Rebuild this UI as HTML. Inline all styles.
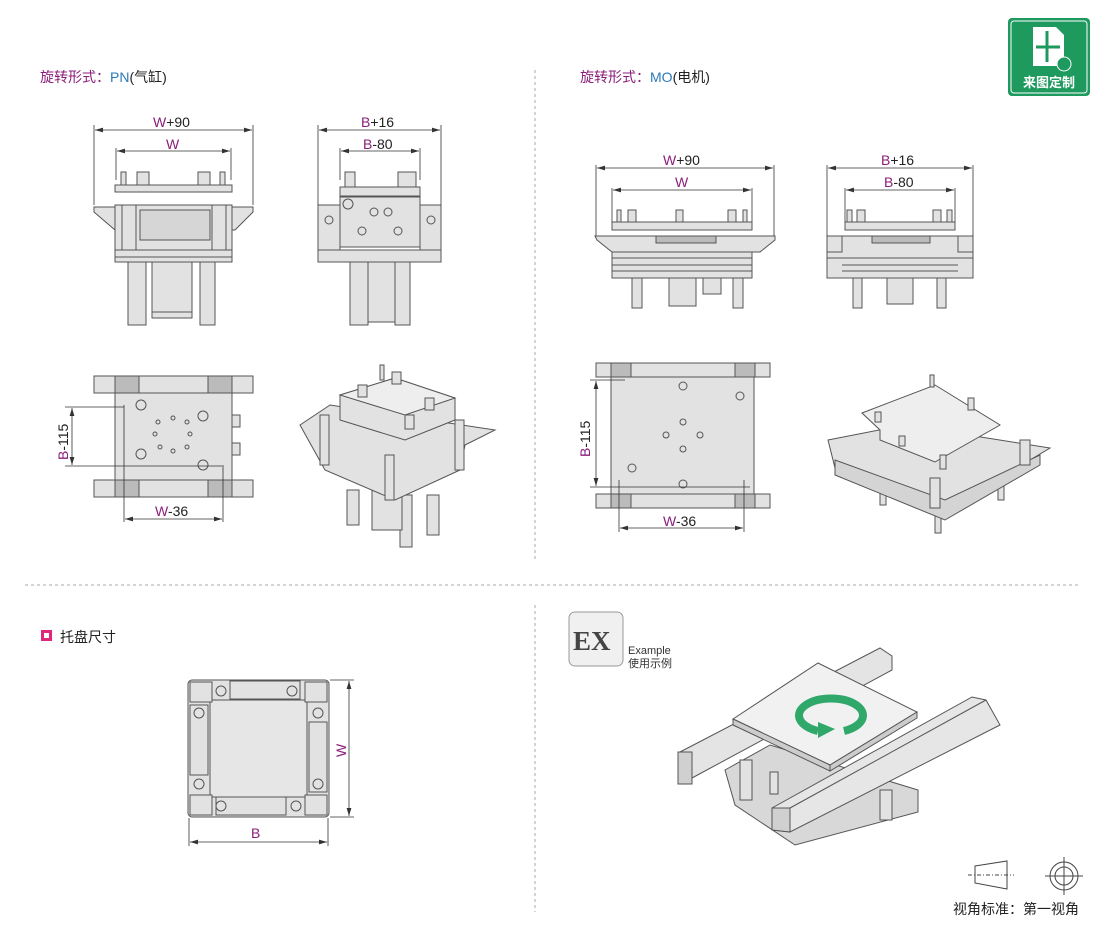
<!DOCTYPE html>
<html><head><meta charset="utf-8">
<style>
html,body{margin:0;padding:0;background:#fff;}
body{width:1110px;height:920px;overflow:hidden;font-family:"Liberation Sans","Noto Sans CJK SC",sans-serif;}
svg text{font-family:"Liberation Sans","Noto Sans CJK SC",sans-serif;}
</style></head><body>
<svg width="1110" height="920" viewBox="0 0 1110 920" xmlns="http://www.w3.org/2000/svg">
<defs>
<marker id="a" viewBox="0 0 10 6" refX="10" refY="3" markerWidth="10" markerHeight="6" orient="auto-start-reverse"><path d="M0,0L10,3L0,6z" fill="#333"/></marker>
</defs>
<g fill="#e2e2e2" stroke="#555" stroke-width="1">

<line x1="535" y1="70" x2="535" y2="562" stroke="#aaa" stroke-dasharray="3,3" fill="none"/>
<line x1="535" y1="605" x2="535" y2="912" stroke="#aaa" stroke-dasharray="3,3" fill="none"/>
<line x1="25" y1="585" x2="1080" y2="585" stroke="#aaa" stroke-dasharray="3,3" fill="none"/>

<!-- PN front -->
<g>
<rect x="128" y="262" width="18" height="63"/><rect x="200" y="262" width="15" height="63"/>
<rect x="152" y="262" width="40" height="56"/>
<line x1="152" y1="312" x2="192" y2="312"/>
<path d="M94,207 L253,207 L253,212 L235,230 L115,230 L94,212z"/>
<rect x="115" y="205" width="117" height="57"/>
<rect x="122" y="205" width="14" height="52"/><rect x="212" y="205" width="14" height="52"/>
<rect x="140" y="210" width="70" height="30" fill="#d6d6d6"/>
<rect x="115" y="185" width="117" height="7"/>
<rect x="121" y="172" width="5" height="13"/><rect x="137" y="172" width="12" height="13"/><rect x="198" y="172" width="12" height="13"/><rect x="220" y="172" width="5" height="13"/>
<rect x="115" y="250" width="117" height="7"/>
</g>
<!-- PN side -->
<g>
<rect x="350" y="262" width="18" height="63"/><rect x="395" y="262" width="15" height="63"/>
<rect x="368" y="262" width="27" height="60"/>
<rect x="318" y="205" width="22" height="52"/><rect x="420" y="205" width="21" height="52"/>
<circle cx="329" cy="220" r="4"/><circle cx="431" cy="220" r="4"/>
<rect x="340" y="197" width="80" height="50"/>
<circle cx="374" cy="212" r="4"/><circle cx="388" cy="212" r="4"/><circle cx="362" cy="231" r="4"/><circle cx="398" cy="231" r="4"/><circle cx="348" cy="204" r="5"/>
<rect x="340" y="187" width="80" height="9"/>
<rect x="345" y="172" width="10" height="15"/><rect x="398" y="172" width="18" height="15"/>
<rect x="318" y="250" width="123" height="12"/>
</g>
<!-- PN top -->
<g>
<rect x="94" y="376" width="159" height="17"/><rect x="94" y="480" width="159" height="17"/>
<rect x="115" y="376" width="24" height="17" fill="#bbb"/><rect x="208" y="376" width="24" height="17" fill="#bbb"/>
<rect x="115" y="480" width="24" height="17" fill="#bbb"/><rect x="208" y="480" width="24" height="17" fill="#bbb"/>
<rect x="115" y="393" width="117" height="87"/>
<rect x="232" y="415" width="8" height="12"/><rect x="232" y="443" width="8" height="12"/>
<circle cx="141" cy="405" r="5"/><circle cx="203" cy="416" r="5"/><circle cx="141" cy="454" r="5"/><circle cx="203" cy="465" r="5"/>
<circle cx="158" cy="422" r="2"/><circle cx="173" cy="418" r="2"/><circle cx="187" cy="422" r="2"/><circle cx="155" cy="434" r="2"/><circle cx="190" cy="434" r="2"/><circle cx="160" cy="447" r="2"/><circle cx="173" cy="451" r="2"/><circle cx="187" cy="447" r="2"/>
</g>
<!-- PN iso -->
<g>
<rect x="347" y="490" width="12" height="35"/><rect x="400" y="495" width="12" height="52"/><rect x="427" y="495" width="12" height="40"/><rect x="372" y="490" width="30" height="40"/>
<path d="M300,425 L330,405 L495,430 L465,445 L460,470 L395,500 L325,470z"/>
<path d="M340,395 L395,378 L455,398 L455,420 L405,440 L340,420z"/>
<path d="M340,395 L395,378 L455,398 L405,415z" fill="#eee"/>
<rect x="380" y="365" width="4" height="15"/><rect x="392" y="372" width="9" height="12"/><rect x="358" y="385" width="9" height="12"/><rect x="425" y="398" width="9" height="12"/><rect x="405" y="415" width="9" height="14"/>
<rect x="320" y="415" width="9" height="50"/><rect x="385" y="455" width="9" height="45"/><rect x="455" y="420" width="9" height="50"/>
</g>

<!-- MO front -->
<g>
<rect x="632" y="278" width="10" height="30"/><rect x="733" y="278" width="10" height="30"/>
<rect x="669" y="278" width="27" height="28"/><rect x="703" y="278" width="18" height="16"/>
<rect x="612" y="236" width="140" height="22"/>
<path d="M595,236 L775,236 L775,240 L760,252 L612,252 L597,240z"/>
<rect x="612" y="258" width="140" height="20"/>
<line x1="612" y1="265" x2="752" y2="265"/><line x1="612" y1="271" x2="752" y2="271"/>
<rect x="656" y="236" width="60" height="7" fill="#bbb"/>
<rect x="612" y="222" width="140" height="8"/>
<rect x="617" y="210" width="4" height="12"/><rect x="628" y="210" width="8" height="12"/><rect x="676" y="210" width="7" height="12"/><rect x="728" y="210" width="8" height="12"/><rect x="743" y="210" width="4" height="12"/>
</g>
<!-- MO side -->
<g>
<rect x="853" y="278" width="9" height="30"/><rect x="937" y="278" width="9" height="30"/>
<rect x="887" y="278" width="26" height="26"/>
<rect x="827" y="236" width="146" height="22"/>
<rect x="827" y="236" width="15" height="16"/><rect x="958" y="236" width="15" height="16"/>
<rect x="872" y="236" width="58" height="7" fill="#bbb"/>
<rect x="827" y="258" width="146" height="20"/>
<line x1="842" y1="265" x2="958" y2="265"/><line x1="842" y1="271" x2="958" y2="271"/>
<rect x="845" y="222" width="110" height="8"/>
<rect x="847" y="210" width="5" height="12"/><rect x="857" y="210" width="8" height="12"/><rect x="933" y="210" width="8" height="12"/><rect x="947" y="210" width="5" height="12"/>
</g>
<!-- MO top -->
<g>
<rect x="596" y="363" width="174" height="14"/><rect x="596" y="494" width="174" height="14"/>
<rect x="611" y="363" width="20" height="14" fill="#bbb"/><rect x="735" y="363" width="20" height="14" fill="#bbb"/>
<rect x="611" y="494" width="20" height="14" fill="#bbb"/><rect x="735" y="494" width="20" height="14" fill="#bbb"/>
<rect x="611" y="377" width="143" height="117"/>
<circle cx="683" cy="386" r="4"/><circle cx="683" cy="484" r="4"/><circle cx="632" cy="468" r="4"/><circle cx="740" cy="396" r="4"/>
<circle cx="683" cy="422" r="3"/><circle cx="666" cy="435" r="3"/><circle cx="700" cy="435" r="3"/><circle cx="683" cy="449" r="3"/>
</g>
<!-- MO iso -->
<g>
<rect x="880" y="480" width="6" height="25"/><rect x="935" y="495" width="6" height="38"/><rect x="998" y="470" width="6" height="30"/>
<path d="M828,440 L905,425 L1050,448 L955,505 L945,505 L835,468z"/>
<path d="M835,460 L945,500 L1040,455 L1040,465 L945,520 L835,475z" fill="#d4d4d4"/>
<path d="M862,413 L935,385 L1000,425 L935,462 L880,440 L880,430z" fill="#eee"/>
<rect x="930" y="375" width="4" height="12"/><rect x="968" y="398" width="6" height="12"/><rect x="875" y="412" width="6" height="10"/><rect x="899" y="436" width="6" height="10"/><rect x="940" y="455" width="6" height="14"/>
<rect x="930" y="478" width="10" height="30"/><rect x="1020" y="440" width="10" height="25"/>
</g>

<!-- Tray -->
<g>
<rect x="188" y="680" width="141" height="137" rx="4"/>
<rect x="210" y="700" width="97" height="97" fill="#e6e6e6"/>
<rect x="190" y="682" width="22" height="20"/><rect x="305" y="682" width="22" height="20"/><rect x="190" y="795" width="22" height="20"/><rect x="305" y="795" width="22" height="20"/>
<rect x="230" y="681" width="70" height="18"/><rect x="216" y="797" width="70" height="18"/>
<rect x="190" y="705" width="18" height="70"/><rect x="309" y="722" width="18" height="70"/>
<circle cx="221" cy="691" r="5"/><circle cx="292" cy="691" r="5"/><circle cx="221" cy="806" r="5"/><circle cx="296" cy="806" r="5"/>
<circle cx="199" cy="713" r="5"/><circle cx="199" cy="784" r="5"/><circle cx="318" cy="713" r="5"/><circle cx="318" cy="784" r="5"/>
</g>

<!-- Example iso -->
<g>
<path d="M680,752 L880,648 L892,656 L892,670 L692,778 L680,772z" fill="#e4e4e4"/>
<rect x="678" y="752" width="14" height="32" fill="#d0d0d0"/>
<path d="M725,770 L770,745 L918,790 L918,812 L795,845 L735,805z" fill="#d8d8d8"/>
<rect x="740" y="760" width="12" height="40"/><rect x="880" y="790" width="12" height="30"/>
<rect x="770" y="772" width="8" height="22"/>
<path d="M733,719 L818,663 L917,712 L830,765z" fill="#f1f1f1"/>
<path d="M733,719 L830,765 L830,771 L733,725z" fill="#ccc"/>
<path d="M830,765 L917,712 L917,718 L830,771z" fill="#ccc"/>
<path d="M772,808 L972,697 L986,700 L1000,725 L790,832 L772,830z" fill="#e6e6e6"/>
<path d="M772,808 L790,808 L790,832 L772,830z" fill="#d0d0d0"/>
<line x1="790" y1="808" x2="986" y2="700"/>
</g>
<path d="M818,731 A32,17 0 1 1 844,731" fill="none" stroke="#2fa86a" stroke-width="8"/>
<path d="M818,722 L835,729 L818,738z" fill="#2fa86a" stroke="none"/>

<rect x="569" y="612" width="54" height="54" rx="6" fill="#f0f0f0" stroke="#999"/>

<path d="M975,866 L1007,861 L1007,889 L975,883z" fill="none" stroke="#444"/>
<line x1="968" y1="875" x2="1014" y2="875" stroke="#444" stroke-dasharray="4,2,1,2"/>
<circle cx="1064" cy="876" r="14" fill="none" stroke="#444"/><circle cx="1064" cy="876" r="9" fill="none" stroke="#444"/>
<line x1="1045" y1="876" x2="1083" y2="876" stroke="#444"/><line x1="1064" y1="857" x2="1064" y2="895" stroke="#444"/>
</g>

<g stroke="#333" stroke-width="0.8" fill="none">
<line x1="94" y1="125" x2="94" y2="205"/><line x1="253" y1="125" x2="253" y2="205"/>
<line x1="95" y1="130" x2="252" y2="130" marker-start="url(#a)" marker-end="url(#a)"/>
<line x1="116" y1="148" x2="116" y2="180"/><line x1="231" y1="148" x2="231" y2="180"/>
<line x1="117" y1="151" x2="230" y2="151" marker-start="url(#a)" marker-end="url(#a)"/>
<line x1="318" y1="125" x2="318" y2="205"/><line x1="441" y1="125" x2="441" y2="205"/>
<line x1="319" y1="130" x2="440" y2="130" marker-start="url(#a)" marker-end="url(#a)"/>
<line x1="340" y1="148" x2="340" y2="180"/><line x1="420" y1="148" x2="420" y2="180"/>
<line x1="341" y1="151" x2="419" y2="151" marker-start="url(#a)" marker-end="url(#a)"/>
<line x1="65" y1="407" x2="124" y2="407"/><line x1="65" y1="466" x2="222" y2="466"/>
<line x1="72" y1="408" x2="72" y2="465" marker-start="url(#a)" marker-end="url(#a)"/>
<line x1="124" y1="405" x2="124" y2="522"/><line x1="223" y1="465" x2="223" y2="522"/>
<line x1="125" y1="519" x2="222" y2="519" marker-start="url(#a)" marker-end="url(#a)"/>

<line x1="596" y1="165" x2="596" y2="236"/><line x1="774" y1="165" x2="774" y2="236"/>
<line x1="597" y1="168" x2="773" y2="168" marker-start="url(#a)" marker-end="url(#a)"/>
<line x1="612" y1="188" x2="612" y2="222"/><line x1="752" y1="188" x2="752" y2="222"/>
<line x1="613" y1="190" x2="751" y2="190" marker-start="url(#a)" marker-end="url(#a)"/>
<line x1="827" y1="165" x2="827" y2="236"/><line x1="973" y1="165" x2="973" y2="236"/>
<line x1="828" y1="168" x2="972" y2="168" marker-start="url(#a)" marker-end="url(#a)"/>
<line x1="845" y1="188" x2="845" y2="222"/><line x1="955" y1="188" x2="955" y2="222"/>
<line x1="846" y1="190" x2="954" y2="190" marker-start="url(#a)" marker-end="url(#a)"/>
<line x1="590" y1="380" x2="625" y2="380"/><line x1="590" y1="487" x2="750" y2="487"/>
<line x1="596" y1="381" x2="596" y2="486" marker-start="url(#a)" marker-end="url(#a)"/>
<line x1="619" y1="480" x2="619" y2="532"/><line x1="744" y1="480" x2="744" y2="532"/>
<line x1="620" y1="528" x2="743" y2="528" marker-start="url(#a)" marker-end="url(#a)"/>

<line x1="330" y1="680" x2="354" y2="680"/><line x1="330" y1="817" x2="354" y2="817"/>
<line x1="349" y1="681" x2="349" y2="816" marker-start="url(#a)" marker-end="url(#a)"/>
<line x1="189" y1="818" x2="189" y2="846"/><line x1="328" y1="818" x2="328" y2="846"/>
<line x1="190" y1="842" x2="327" y2="842" marker-start="url(#a)" marker-end="url(#a)"/>
</g>

<g font-size="14" fill="#222">
<text x="40" y="82" fill="#8b1e7a">旋转形式：<tspan fill="#2a7ab8">PN</tspan><tspan fill="#222">(气缸)</tspan></text>
<text x="580" y="82" fill="#8b1e7a">旋转形式：<tspan fill="#2a7ab8">MO</tspan><tspan fill="#222">(电机)</tspan></text>
<text x="153" y="127"><tspan fill="#8b1e7a">W</tspan>+90</text>
<text x="166" y="149" fill="#8b1e7a">W</text>
<text x="361" y="127"><tspan fill="#8b1e7a">B</tspan>+16</text>
<text x="363" y="149"><tspan fill="#8b1e7a">B</tspan>-80</text>
<text transform="translate(68,460) rotate(-90)"><tspan fill="#8b1e7a">B</tspan>-115</text>
<text x="155" y="516"><tspan fill="#8b1e7a">W</tspan>-36</text>
<text x="663" y="165"><tspan fill="#8b1e7a">W</tspan>+90</text>
<text x="675" y="187" fill="#8b1e7a">W</text>
<text x="881" y="165"><tspan fill="#8b1e7a">B</tspan>+16</text>
<text x="884" y="187"><tspan fill="#8b1e7a">B</tspan>-80</text>
<text transform="translate(590,457) rotate(-90)"><tspan fill="#8b1e7a">B</tspan>-115</text>
<text x="663" y="526"><tspan fill="#8b1e7a">W</tspan>-36</text>
<text transform="translate(346,757) rotate(-90)" fill="#8b1e7a">W</text>
<text x="251" y="838" fill="#8b1e7a">B</text>
<text x="60" y="642">托盘尺寸</text>
<text x="953" y="914" font-size="14">视角标准：第一视角</text>
</g>
<rect x="41" y="630" width="11" height="11" fill="#e0287a"/>
<rect x="44" y="633" width="5" height="5" fill="#fff"/>
<text x="573" y="650" font-size="27" font-weight="bold" fill="#444" style="font-family:'Liberation Serif',serif">EX</text>
<text x="628" y="654" font-size="11" fill="#333">Example</text>
<text x="628" y="667" font-size="11" fill="#333">使用示例</text>

<rect x="1008" y="18" width="82" height="78" rx="4" fill="#1f9a5f"/>
<rect x="1011" y="21" width="76" height="72" rx="3" fill="none" stroke="#fff" stroke-width="1"/>
<path d="M1033,27 L1056,27 L1064,35 L1064,66 L1033,66z" fill="#fff"/>
<path d="M1047,31 L1047,62 M1036,47 L1060,47" stroke="#1f9a5f" stroke-width="3"/>
<circle cx="1064" cy="64" r="7" fill="#1f9a5f" stroke="#fff"/>
<text x="1049" y="87" font-size="13" font-weight="bold" fill="#fff" text-anchor="middle">来图定制</text>
</svg>
</body></html>
